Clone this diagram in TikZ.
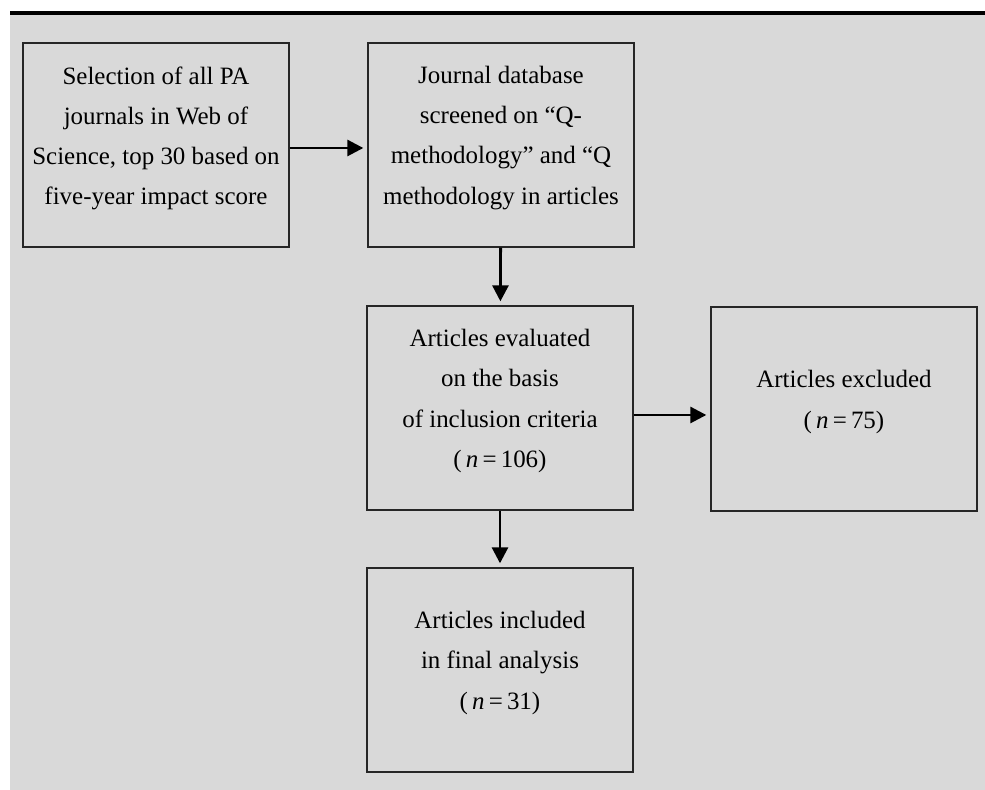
\documentclass[tikz,border=0pt]{standalone}
\usepackage{fontspec}
\setmainfont{Liberation Serif}
\usepackage{tikz}
\usetikzlibrary{arrows.meta,backgrounds,positioning}
\definecolor{panelgray}{HTML}{D9D9D9}

\begin{document}
\begin{tikzpicture}
[x=0.02cm,y=-0.02cm,
stage/.style={rectangle,draw=black!85,fill=panelgray,line width=0.8pt,minimum width=5.32cm,minimum height=4.08cm,inner sep=0pt},
txt/.style={align=center,inner sep=0pt,yshift=0.14cm,font=\fontsize{14.2}{22.8}\selectfont},
flow/.style={-{Triangle[length=0.32cm,width=0.32cm]},line width=1.6pt,shorten >=0.08cm}]

\useasboundingbox (0,0) rectangle (985,790);
\fill[panelgray] (10,15) rectangle (985,790);
\draw[line width=0.08cm] (10,13) -- (985,13);

\node[stage] (11) at (156,145) [label={[txt]center:{Selection of all PA\\journals in Web of\\Science, top 30 based on\\five-year impact score}}] {};
\node[stage] (12) at (501,145) [label={[txt]center:{Journal database\\screened on “Q-\\methodology” and “Q\\methodology in articles}}] {};

\node[stage] (22) at (500,408) [label={[txt]center:{Articles evaluated\\on the basis\\of inclusion criteria\\(\,\textit{n}\,=\,106)}}] {};
\node[stage] (23) at (844,409) [label={[txt]center:{Articles excluded\\(\,\textit{n}\,=\,75)}}] {};

\node[stage] (32) at (500,670) [label={[txt]center:{Articles included\\in final analysis\\(\,\textit{n}\,=\,31)}}] {};

\draw[flow] ([yshift=-0.06cm]11.east) -- ([yshift=-0.06cm]11.east -| 12.west);
\draw[flow] (12) -- (22);
\draw[flow] ([yshift=-0.14cm]22.east) -- ([yshift=-0.14cm]22.east -| 23.west);
\draw[flow] (22) -- (32);
\end{tikzpicture}
\end{document}
